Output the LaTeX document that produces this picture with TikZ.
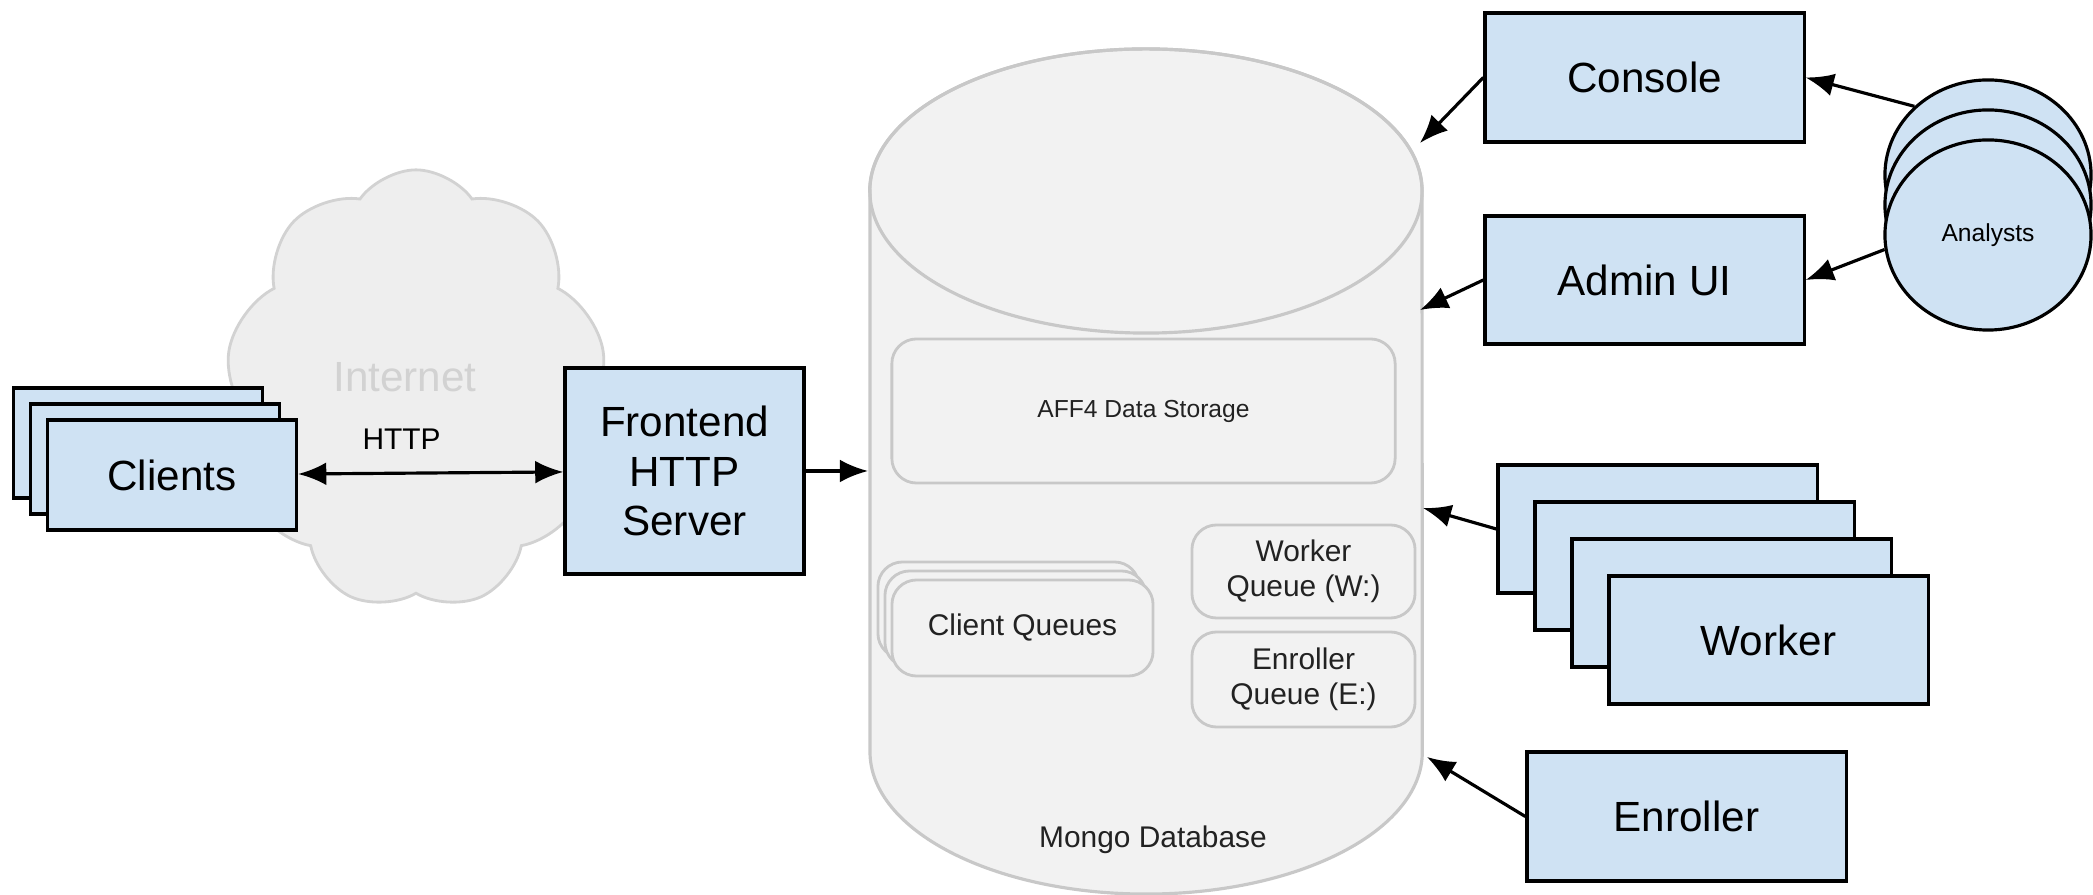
\documentclass[tikz,border=0pt]{standalone}
\usepackage{fontspec}
\setmainfont{Liberation Sans}
\usetikzlibrary{arrows.meta,positioning,shapes.geometric,shapes.symbols}
\definecolor{boxblue}{RGB}{207,226,243}
\definecolor{dbfill}{RGB}{242,242,242}
\definecolor{dbline}{RGB}{200,200,200}
\definecolor{cloudfill}{RGB}{238,238,238}
\definecolor{cloudline}{RGB}{210,210,210}
\definecolor{dbtext}{RGB}{34,34,34}
\tikzset{font=\fontsize{12}{14}\selectfont}
\tikzstyle{box}=[draw=black,line width=0.9pt,fill=boxblue,minimum width=3.19cm,minimum height=1.28cm,inner sep=0pt]
\tikzstyle{inbox}=[draw=dbline,line width=0.8pt,fill=dbfill,rounded corners=7pt,inner sep=0pt,align=center,text=dbtext,font=\fontsize{8.5}{10}\selectfont]
\tikzstyle{person}=[ellipse,draw=black,line width=0.9pt,fill=boxblue,minimum width=2.06cm,minimum height=1.90cm,inner sep=0pt]
\tikzstyle{flow}=[->,line width=0.9pt,>={Latex[length=8pt,width=6.5pt]}]

\begin{document}
\begin{tikzpicture}[x=0.01cm,y=-0.01cm]
\useasboundingbox (0,0) rectangle (2093,895);
% internet cloud
\node[cloud,cloud puffs=9,cloud puff arc=110,cloud ignores aspect,draw=cloudline,fill=cloudfill,line width=0.8pt,minimum width=3.80cm,minimum height=4.40cm] (net) at (416,390) {};
\node[text=cloudline] (nettext) at (405,377) {Internet};
% clients
\node[box,minimum width=2.49cm,minimum height=1.10cm] (cl3) at (138,443) {};
\node[box,minimum width=2.49cm,minimum height=1.10cm] (cl2) at (155,459) {};
\node[box,minimum width=2.49cm,minimum height=1.10cm] (cl1) at (172,475) {Clients};
\node[box,minimum width=2.39cm,minimum height=2.06cm,align=center] (fe) at (684.5,471) {Frontend\\HTTP\\Server};
% database
\draw[draw=dbline,fill=dbfill,line width=0.9pt] (870,191) -- (870,752)
  arc[start angle=180,end angle=360,x radius=2.76cm,y radius=1.42cm] -- (1422,191)
  arc[start angle=0,end angle=180,x radius=2.76cm,y radius=1.42cm] -- cycle;
\draw[draw=dbline,line width=0.9pt] (1146,191) ellipse[x radius=2.76cm,y radius=1.42cm];
\node[inbox,minimum width=5.03cm,minimum height=1.44cm,font=\fontsize{7}{8}\selectfont] (aff) at (1143.5,411) {AFF4 Data Storage};
\node[inbox,minimum width=2.61cm,minimum height=0.96cm] (cq3) at (1008.5,610) {};
\node[inbox,minimum width=2.61cm,minimum height=0.96cm] (cq2) at (1015.5,619) {};
\node[inbox,minimum width=2.61cm,minimum height=0.96cm] (cq1) at (1022.5,628) {Client Queues};
\node[inbox,minimum width=2.23cm,minimum height=0.93cm] (wq) at (1303.5,571.5) {Worker\\Queue (W:)};
\node[inbox,minimum width=2.23cm,minimum height=0.95cm] (eq) at (1303.5,679.5) {Enroller\\Queue (E:)};
\node[text=dbtext,font=\fontsize{8.5}{10}\selectfont] (dbname) at (1153,840) {Mongo Database};
\coordinate (dbin) at (868,471);
\coordinate (dbcon) at (1420,143);
\coordinate (dbadm) at (1420,310);
\coordinate (dbwrk) at (1423,508);
\coordinate (dbenr) at (1427,757);
% right side
\node[box,minimum height=1.29cm] (con) at (1644.5,77.5) {Console};
\node[box] (adm) at (1644.5,280) {Admin UI};
\node[box] (wk1) at (1657.5,529) {};
\node[box] (wk2) at (1694.5,566) {};
\node[box] (wk3) at (1731.5,603) {};
\node[box] (wk4) at (1768.5,640) {Worker};
\node[box,minimum height=1.29cm] (enr) at (1686.5,816.5) {Enroller};
\node[person] (an3) at (1988,175) {};
\node[person] (an2) at (1988,205) {};
\node[person,font=\fontsize{7}{8}\selectfont] (an1) at (1988,235) {Analysts};
\path[flow]
(cl1) edge[<->] node[pos=0.39,above=3pt,font=\fontsize{8.5}{10}\selectfont]{HTTP} (fe)
(fe) edge (dbin)
(con.west) edge (dbcon)
(adm.west) edge (dbadm)
(wk1.west) edge (dbwrk)
(enr.west) edge (dbenr)
(an3.137) edge (con.east)
(an1.188) edge (adm.east);
\end{tikzpicture}
\end{document}
